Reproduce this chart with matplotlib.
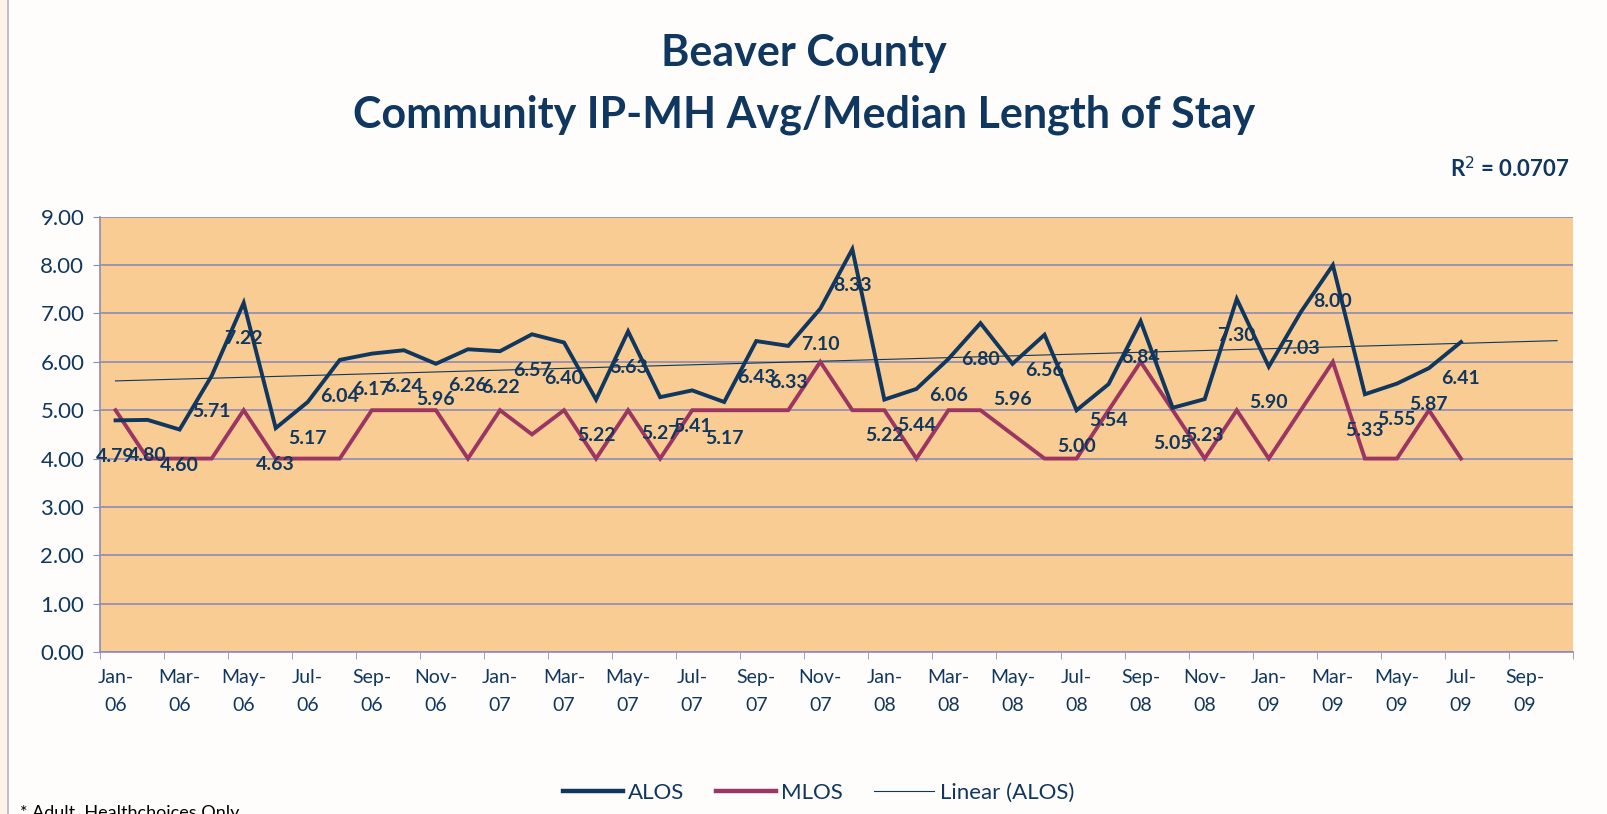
import numpy as np
import matplotlib
matplotlib.use("Agg")
import matplotlib.pyplot as plt
from matplotlib.lines import Line2D
from matplotlib.patches import Rectangle

# month labels, Jan-06 .. Oct-09 (axis runs one month past the last tick)
months = ["Jan", "Feb", "Mar", "Apr", "May", "Jun", "Jul", "Aug", "Sep", "Oct", "Nov", "Dec"]
years = ["06", "07", "08", "09"]
categories = [f"{m}-{y}" for y in years for m in months][:46]

alos = [4.79, 4.80, 4.60, 5.71, 7.22, 4.63, 5.17, 6.04, 6.17, 6.24, 5.96, 6.26,
        6.22, 6.57, 6.40, 5.22, 6.63, 5.27, 5.41, 5.17, 6.43, 6.33, 7.10, 8.33,
        5.22, 5.44, 6.06, 6.80, 5.96, 6.56, 5.00, 5.54, 6.84, 5.05, 5.23, 7.30,
        5.90, 7.03, 8.00, 5.33, 5.55, 5.87, 6.41]
mlos = [5, 4, 4, 4, 5, 4, 4, 4, 5, 5, 5, 4,
        5, 4.5, 5, 4, 5, 4, 5, 5, 5, 5, 6, 5,
        5, 4, 5, 5, 4.5, 4, 4, 5, 6, 5, 4, 5,
        4, 5, 6, 4, 4, 5, 4]
y_ticks = [0, 1, 2, 3, 4, 5, 6, 7, 8, 9]

navy = "#10375F"
maroon = "#9B3663"
grid_col = "#8C8CB8"
plt.rcParams['font.family'] = ['Lato', 'DejaVu Sans']

fig = plt.figure(figsize=(16.08, 8.14), dpi=100, facecolor="#FFFDFB")
# cream strip and border on the left edge
fig.patches.append(Rectangle((0, 0), 8 / 1608, 1, transform=fig.transFigure,
                             facecolor="#FDF3E7", edgecolor="none"))
fig.add_artist(Line2D([8 / 1608, 8 / 1608], [0, 1], color="#B8B0CC", lw=1.2))

ax = fig.add_axes([0.0619, 0.199, 0.9164, 0.5347])
ax.set_facecolor("#F9CC93")

x = np.arange(len(alos))
x_all = np.arange(len(categories))

# linear trendline of ALOS, extended over the whole axis
slope, icpt = np.polyfit(x, alos, 1)
ax.plot(x_all, slope * x_all + icpt, color=navy, lw=0.8, zorder=3)

ax.plot(x, mlos, color=maroon, lw=2.8, zorder=4, solid_joinstyle='miter')
ax.plot(x, alos, color=navy, lw=2.8, zorder=5, solid_joinstyle='miter')

for xi, v in zip(x, alos):
    ax.annotate(f"{v:.2f}", (xi, v), xytext=(0, -26), textcoords="offset points",
                ha="center", va="center", fontsize=14, fontweight="bold",
                color=navy, zorder=6)

ax.set_xlim(-0.5, len(categories) - 0.5)
ax.set_ylim(0, 9)
ax.set_yticks(y_ticks)
ax.set_yticklabels([f"{t:.2f}" for t in y_ticks], fontsize=16, color=navy)
ax.yaxis.grid(True, color=grid_col, lw=1.2)
ax.set_axisbelow(True)

ax.set_xticks(x_all[::2])
ax.set_xticklabels([c.replace("-", "-\n") for c in categories[::2]],
                   fontsize=14, color=navy, linespacing=1.8)
ax.set_xticks(np.arange(-0.5, len(categories), 2), minor=True)
ax.tick_params(axis="x", which="major", length=0, pad=12)
ax.tick_params(axis="x", which="minor", length=5, color=grid_col, direction="out")
ax.tick_params(axis="y", length=5, color=grid_col, direction="out", pad=6)

for s in ["top", "right"]:
    ax.spines[s].set_visible(False)
for s in ["left", "bottom"]:
    ax.spines[s].set_color(grid_col)
    ax.spines[s].set_linewidth(1.2)

fig.text(0.5, 1 - 53 / 814, "Beaver County", ha="center", va="center",
         fontsize=31, fontweight="bold", color=navy)
fig.text(0.5, 1 - 115 / 814, "Community IP-MH Avg/Median Length of Stay", ha="center",
         va="center", fontsize=31, fontweight="bold", color=navy)
fig.text(0.976, 1 - 169 / 814, "R$^2$ = 0.0707", ha="right", va="center",
         fontsize=16, fontweight="bold", color=navy)

handles = [Line2D([], [], color=navy, lw=3.2), Line2D([], [], color=maroon, lw=3.2),
           Line2D([], [], color=navy, lw=0.8)]
fig.legend(handles, ["ALOS", "MLOS", "Linear (ALOS)"], loc="center",
           bbox_to_anchor=(0.509, 1 - 793 / 814), ncol=3, frameon=False,
           fontsize=16, labelcolor=navy, handlelength=2.7, columnspacing=1.4,
           handletextpad=0.25)

fig.text(20 / 1608, -4 / 814, "* Adult  Healthchoices Only", ha="left", va="baseline",
         fontsize=13, color="#000000")

fig.savefig("out.png", dpi=100, facecolor=fig.get_facecolor())
